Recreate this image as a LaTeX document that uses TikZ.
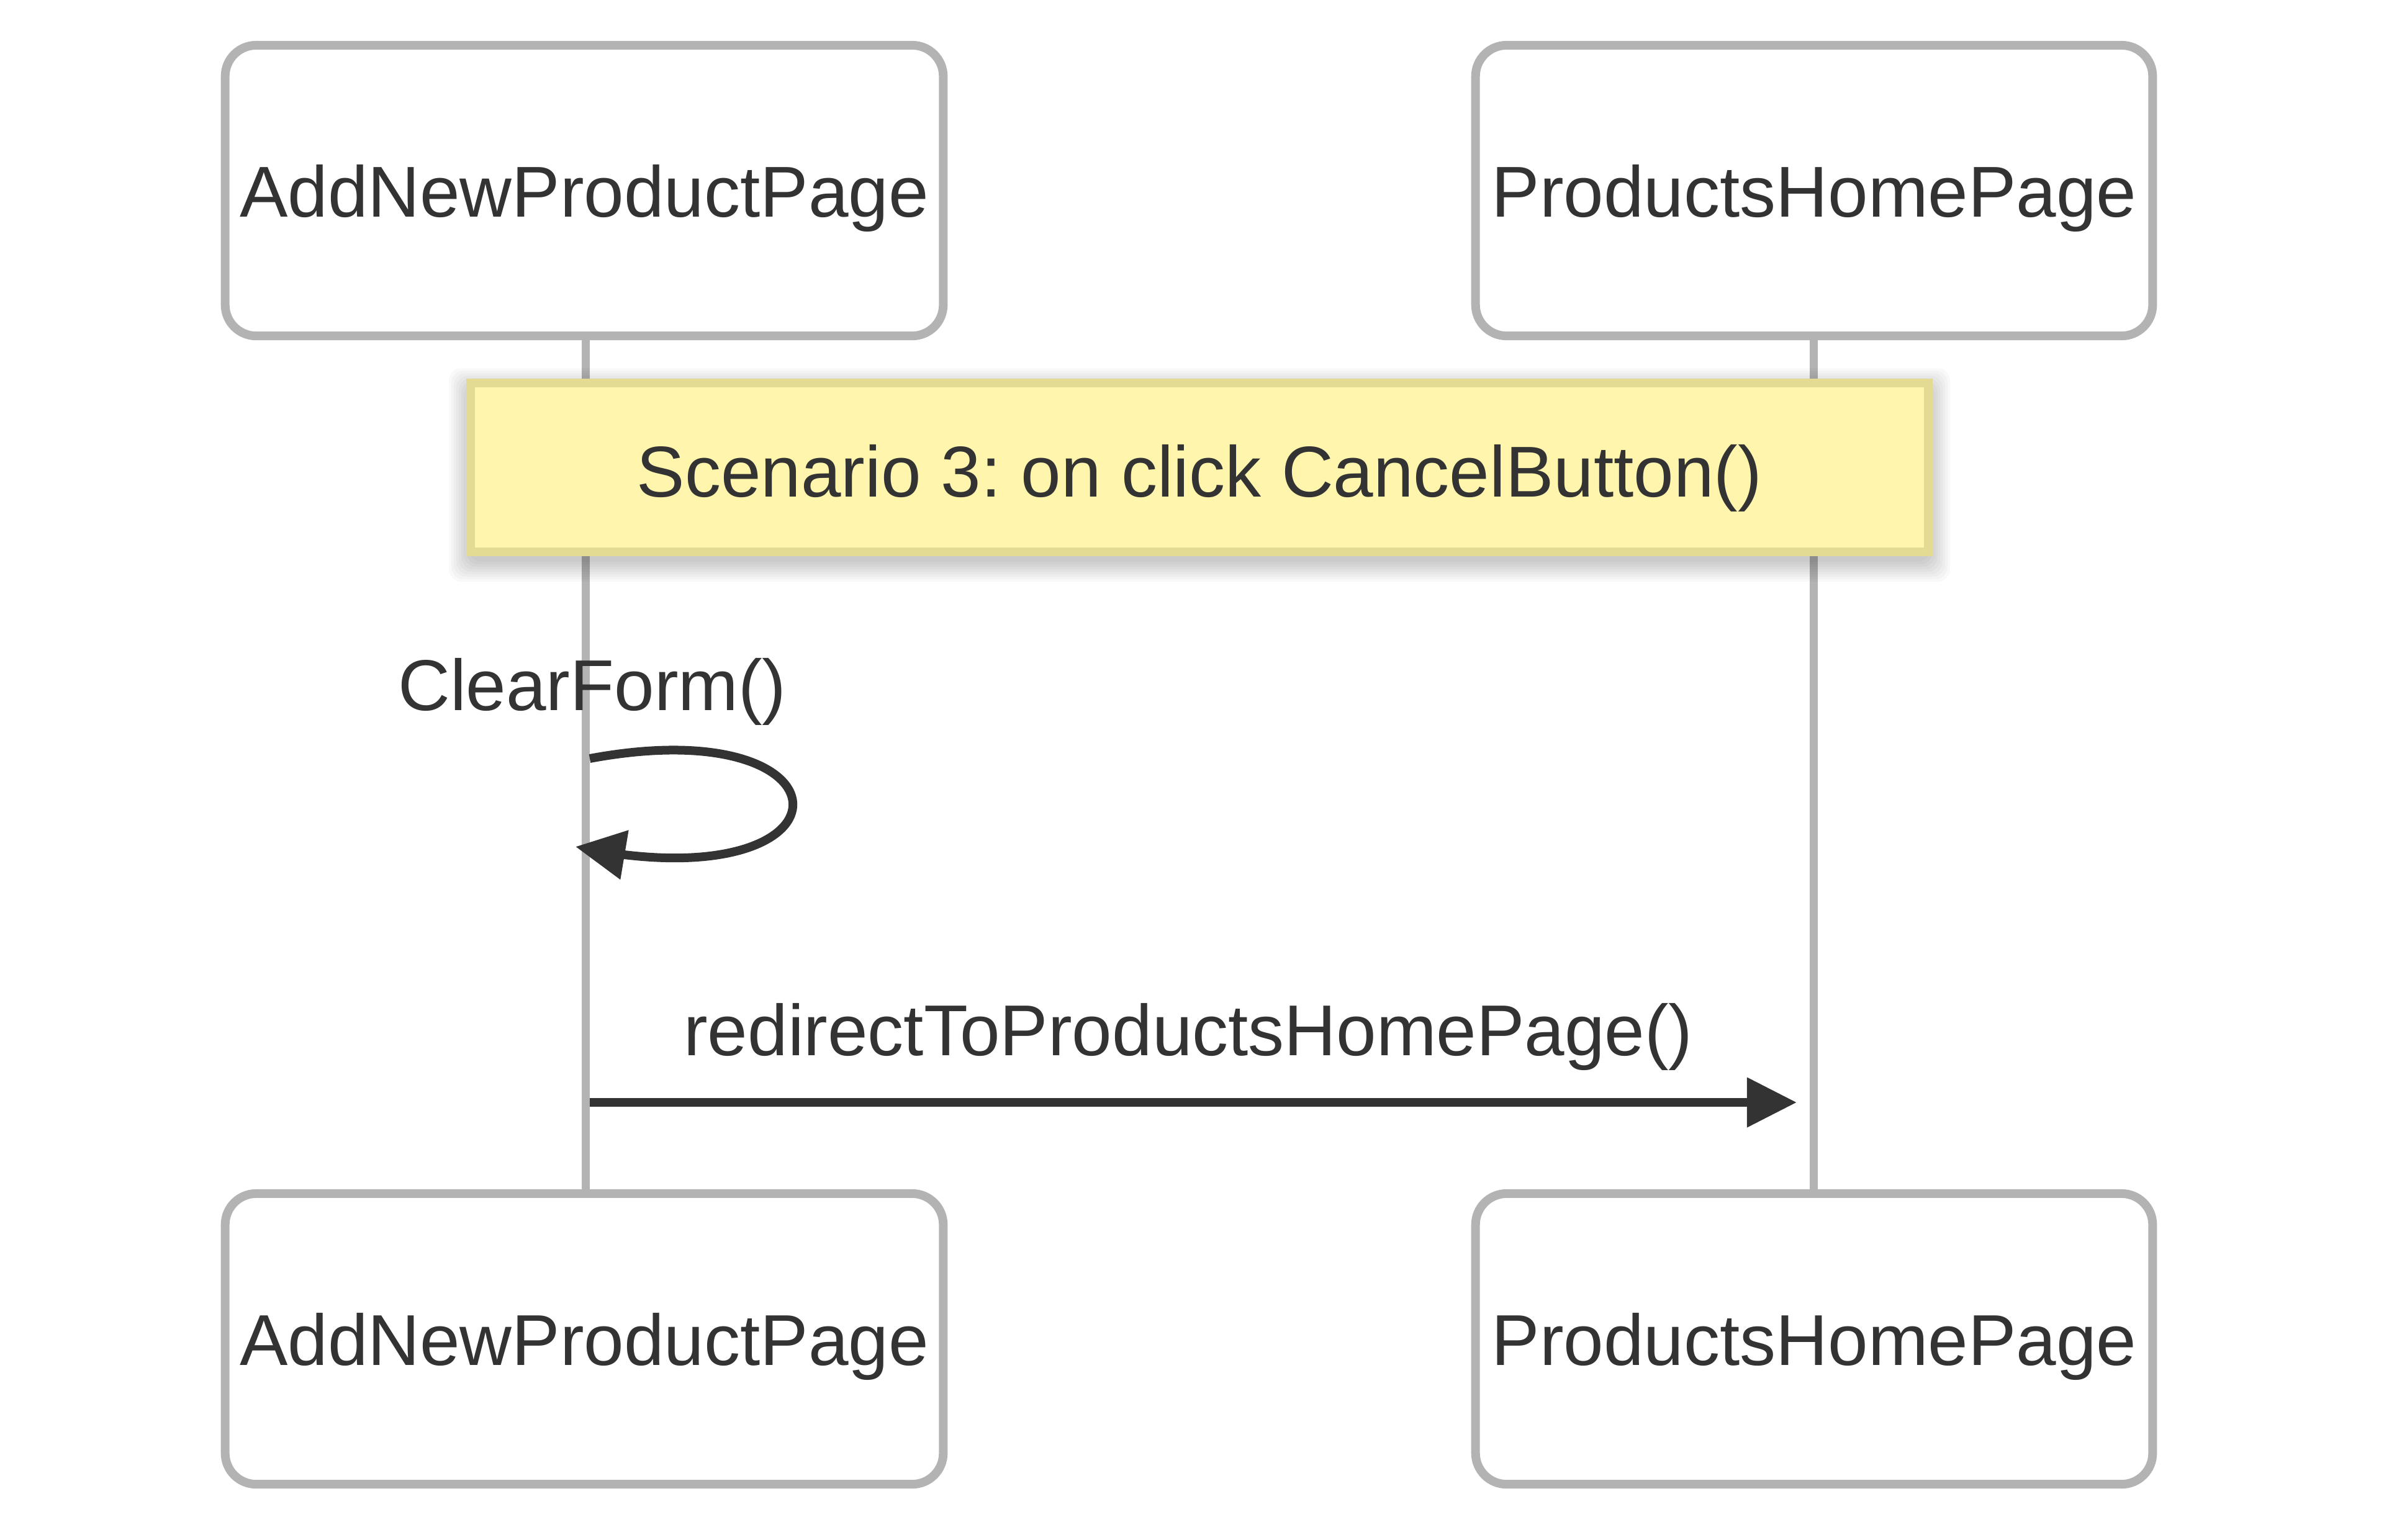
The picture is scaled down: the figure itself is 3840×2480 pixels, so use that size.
\documentclass[tikz,border=0pt]{standalone}
\usepackage{fontspec}
\setmainfont{Liberation Sans}
\usetikzlibrary{arrows.meta,bending}
\definecolor{txt}{HTML}{333333}
\definecolor{actorline}{HTML}{B3B3B3}
\definecolor{notefill}{HTML}{FFF5AD}
\definecolor{notedraw}{HTML}{E3DB94}
\frenchspacing
\begin{document}
\begin{tikzpicture}[x=0.01cm,y=-0.01cm,
  lblfont/.style={font=\fontsize{33pt}{39pt}\selectfont, text=txt},
  actorbox/.style={lblfont, draw=actorline, line width=0.14cm, fill=white,
    rounded corners=0.5cm, minimum height=4.68cm, inner sep=0pt,
    text height=0.84cm, text depth=0pt},
  lifeline/.style={draw=actorline, line width=0.13cm},
  notebox/.style={draw=notedraw, fill=notefill, line width=0.14cm,
    minimum width=23.46cm, minimum height=2.72cm, inner sep=0pt},
  lbl/.style={lblfont, inner sep=0pt, anchor=base},
  msg/.style={draw=txt, line width=0.14cm, -{Triangle[length=0.8cm,width=0.77cm]}}
]
\fill[white] (0,0) rectangle (3840,2480);
\useasboundingbox (0,0) rectangle (3840,2480);

% lifelines
\coordinate (aTop) at (943,541);
\coordinate (aBot) at (943,1922);
\coordinate (bTop) at (2921,541);
\coordinate (bBot) at (2921,1922);
\draw[lifeline] (aTop) -- (aBot);
\draw[lifeline] (bTop) -- (bBot);

% actors
\node[actorbox, minimum width=11.56cm] (a1) at (941,307) {AddNewProductPage};
\node[actorbox, minimum width=10.90cm] (b1) at (2922,307) {ProductsHomePage};
\node[actorbox, minimum width=11.56cm] (a2) at (941,2157) {AddNewProductPage};
\node[actorbox, minimum width=10.90cm] (b2) at (2922,2157) {ProductsHomePage};

% note shadow (soft)
\foreach \e in {4,8,...,36}
  \fill[black, opacity=0.022, rounded corners=0.2cm]
    (759-\e, 629-\e) rectangle (3105+\e, 901+\e);
% note
\node[notebox] (note) at (1932,753) {};
\node[lbl] (notetext) at (1932,800) {Scenario 3: on click CancelButton()};

% self message
\node[lbl] (cf) at (954,1144) {ClearForm()};
\coordinate (loopS) at (950,1222);
\coordinate (loopE) at (927,1364);
\draw[msg] (loopS) .. controls (1390,1140) and (1390,1460) .. (loopE);

% message
\node[lbl] (rd) at (1914,1700) {redirectToProductsHomePage()};
\coordinate (mS) at (950,1776);
\coordinate (mE) at (2894,1776);
\draw[msg] (mS) -- (mE);
\end{tikzpicture}
\end{document}
